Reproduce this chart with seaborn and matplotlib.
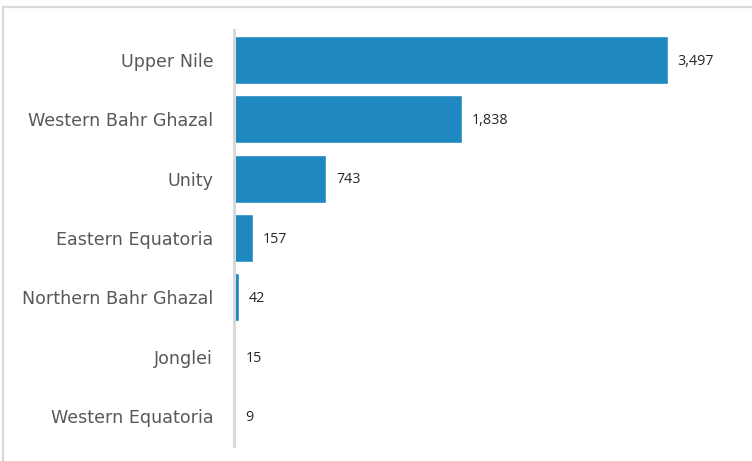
import matplotlib
matplotlib.use("Agg")
import matplotlib.pyplot as plt
from matplotlib.lines import Line2D
import seaborn as sns
import pandas as pd

# data
states = ["Upper Nile", "Western Bahr Ghazal", "Unity", "Eastern Equatoria",
          "Northern Bahr Ghazal", "Jonglei", "Western Equatoria"]
cases = [3497, 1838, 743, 157, 42, 15, 9]

df = pd.DataFrame({"state": states, "cases": cases})

sns.set_style("white")
plt.rcParams["font.family"] = ["Open Sans", "DejaVu Sans"]

fig = plt.figure(figsize=(7.52, 4.61), dpi=100)
ax = fig.add_axes([234 / 752, 1 - 446 / 461, (740 - 234) / 752, (446 - 30) / 461])

sns.barplot(data=df, x="cases", y="state", color="#1f88c1", saturation=1,
            width=0.81, ax=ax)

ax.set_xlim(0, 506 / 0.1241)
ax.set_xlabel("")
ax.set_ylabel("")
ax.set_xticks([])
for side in ["top", "right", "bottom"]:
    ax.spines[side].set_visible(False)
ax.spines["left"].set_color("#d9d9d9")
ax.spines["left"].set_linewidth(2.2)
ax.tick_params(axis="y", length=0, pad=15)
for lbl in ax.get_yticklabels():
    lbl.set_fontfamily("DejaVu Sans")
    lbl.set_fontsize(12.6)
    lbl.set_color("#595959")

for i, v in enumerate(cases):
    ax.annotate(f"{v:,}", xy=(v, i), xytext=(7, -1), textcoords="offset points",
                va="center", ha="left", fontsize=10.3, color="#262626")

# light frame on top and left (chart is cropped on the other sides)
fig.add_artist(Line2D([2.5 / 752, 2.5 / 752], [0, 1 - 7.5 / 461],
                      transform=fig.transFigure, color="#d9d9d9", linewidth=1.6))
fig.add_artist(Line2D([2.5 / 752, 1], [1 - 7.5 / 461, 1 - 7.5 / 461],
                      transform=fig.transFigure, color="#d9d9d9", linewidth=1.6))

fig.savefig("out.png", dpi=100)
